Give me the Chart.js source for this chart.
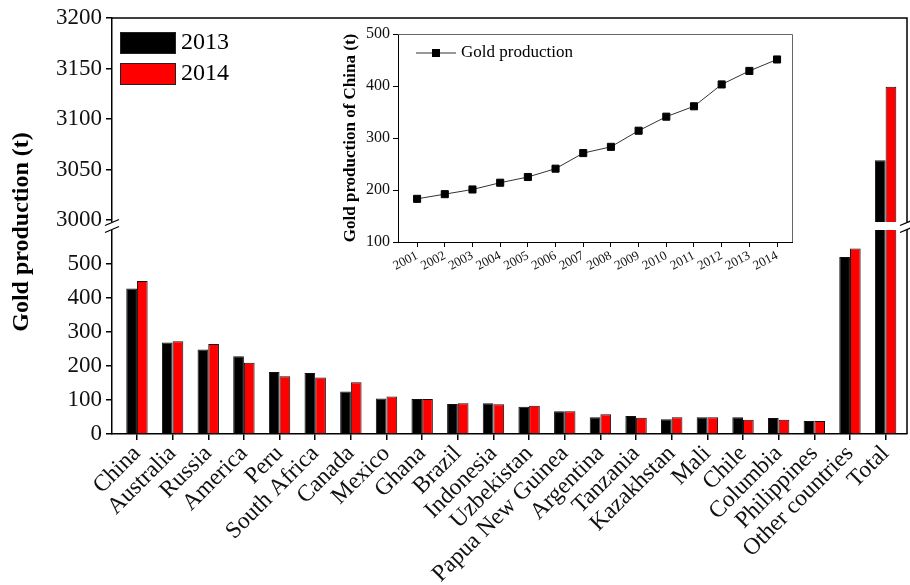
<!DOCTYPE html>
<html>
<head>
<meta charset="utf-8">
<script src="https://cdn.jsdelivr.net/npm/chart.js@4.4.0/dist/chart.umd.min.js"></script>
<style>
  body { margin: 0; background: #fff; }
  #wrap { position: relative; width: 910px; height: 585px; }
  #main { position: absolute; left: 0; top: 0; }
  #inset { position: absolute; left: 330px; top: 20px; }
</style>
</head>
<body>
<div id="wrap">
  <canvas id="main" width="910" height="585"></canvas>
  <canvas id="inset" width="480" height="262"></canvas>
</div>
<script>
// ----- DATA -----
const countries = ["China", "Australia", "Russia", "America", "Peru", "South Africa",
  "Canada", "Mexico", "Ghana", "Brazil", "Indonesia", "Uzbekistan", "Papua New Guinea",
  "Argentina", "Tanzania", "Kazakhstan", "Mali", "Chile", "Columbia", "Philippines",
  "Other countries", "Total"];
const prod2013 = [427, 268, 248, 228, 182, 179, 125, 104, 103, 88, 90, 80, 67,
  49, 53, 43, 49, 49, 47, 38, 519, 3059];
const prod2014 = [449, 272, 264, 209, 169, 166, 152, 110, 103, 90, 87, 83, 67,
  58, 48, 49, 49, 42, 42, 38, 544, 3132];
const lowTicks = [0, 100, 200, 300, 400, 500];
const highTicks = [3000, 3050, 3100, 3150, 3200];

const chinaYears = [2001, 2002, 2003, 2004, 2005, 2006, 2007, 2008, 2009, 2010, 2011, 2012, 2013, 2014];
const chinaProd = [183, 192, 201, 214, 225, 241, 271, 283, 314, 341, 361, 403, 429, 451];
const insetTicks = [100, 200, 300, 400, 500];

const LOW_MAX = 610;
const HIGH_MIN = 2994;
const serif = '"Liberation Serif", "Times New Roman", serif';

// split every bar across the axis break
const lowPart = arr => arr.map((v, i) => ({ x: i, y: Math.min(v, LOW_MAX) }));
const highPart = arr => arr.map((v, i) => ({ x: i, y: v > LOW_MAX ? v : null }));

const barStyle = color => ({
  backgroundColor: color,
  borderColor: "#111",
  borderWidth: 1,
  categoryPercentage: 0.6,
  barPercentage: 1
});

// ----- MAIN CHART EXTRAS -----
const mainDecor = {
  id: "mainDecor",
  afterDatasetsDraw(chart) {
    const ctx = chart.ctx;
    const a = chart.chartArea;
    const seam = chart.scales.yHigh.bottom;

    ctx.save();
    // top + right frame
    ctx.strokeStyle = "#000";
    ctx.lineWidth = 1.5;
    ctx.beginPath();
    ctx.moveTo(a.left, a.top);
    ctx.lineTo(a.right, a.top);
    ctx.lineTo(a.right, a.bottom);
    ctx.stroke();

    // break gap
    ctx.fillStyle = "#fff";
    ctx.fillRect(a.left - 4, seam - 4, a.right - a.left + 10, 8);

    // break marks
    ctx.lineWidth = 1.3;
    [a.left, a.right].forEach(x => {
      [-3.5, 3.5].forEach(dy => {
        ctx.beginPath();
        ctx.moveTo(x - 7, seam + dy + 3);
        ctx.lineTo(x + 7, seam + dy - 3);
        ctx.stroke();
      });
    });

    // legend
    const items = [["2013", "#000"], ["2014", "#ff0000"]];
    ctx.font = "24px " + serif;
    ctx.textBaseline = "middle";
    items.forEach((it, k) => {
      const y = 32 + k * 31;
      ctx.fillStyle = it[1];
      ctx.fillRect(120, y, 55, 21);
      ctx.strokeStyle = "#222";
      ctx.lineWidth = 1;
      ctx.strokeRect(120.5, y + 0.5, 55, 21);
      ctx.fillStyle = "#000";
      ctx.fillText(it[0], 181, y + 11);
    });

    // y title
    ctx.translate(22, 232);
    ctx.rotate(-Math.PI / 2);
    ctx.font = "bold 24px " + serif;
    ctx.textAlign = "center";
    ctx.textBaseline = "middle";
    ctx.fillText("Gold production (t)", 0, 0);
    ctx.restore();
  }
};

const yCommon = {
  position: "left",
  stack: "y",
  stackWeight: 1,
  stacked: false,
  beginAtZero: false,
  grid: { drawOnChartArea: false, tickLength: 6, color: "#000", lineWidth: 1.5 },
  border: { display: true, color: "#000", width: 1.5 },
  ticks: { font: { family: serif, size: 23 }, color: "#111", padding: 4, autoSkip: false, callback: v => String(v) },
  afterFit: s => { s.width = 112; }
};

new Chart(document.getElementById("main"), {
  type: "bar",
  data: {
    datasets: [
      { label: "2013", data: lowPart(prod2013), yAxisID: "yLow", stack: "s13", ...barStyle("#000") },
      { label: "2014", data: lowPart(prod2014), yAxisID: "yLow", stack: "s14", ...barStyle("#ff0000") },
      { label: "2013", data: highPart(prod2013), yAxisID: "yHigh", stack: "s13", ...barStyle("#000") },
      { label: "2014", data: highPart(prod2014), yAxisID: "yHigh", stack: "s14", ...barStyle("#ff0000") }
    ]
  },
  options: {
    responsive: false,
    animation: false,
    events: [],
    layout: { padding: { top: 18, right: 3 } },
    plugins: { legend: { display: false }, tooltip: { enabled: false } },
    scales: {
      x: {
        type: "linear",
        offset: false,
        min: -0.7,
        max: 21.6,
        afterBuildTicks: s => { s.ticks = countries.map((c, i) => ({ value: i })); },
        ticks: {
          callback: v => countries[v],
          autoSkip: false,
          minRotation: 45,
          maxRotation: 45,
          font: { family: serif, size: 23.5 },
          color: "#111",
          padding: 0
        },
        grid: { drawOnChartArea: false, offset: false, tickLength: 6, color: "#000", lineWidth: 1.5 },
        border: { display: true, color: "#000", width: 1.5 },
        afterFit: s => { s.height = 151; }
      },
      yLow: {
        ...yCommon,
        min: 0,
        max: LOW_MAX,
        afterBuildTicks: s => { s.ticks = lowTicks.map(v => ({ value: v })); }
      },
      yHigh: {
        ...yCommon,
        min: HIGH_MIN,
        max: 3200,
        afterBuildTicks: s => { s.ticks = highTicks.map(v => ({ value: v })); }
      }
    }
  },
  plugins: [mainDecor]
});

// ----- INSET -----
const insetDecor = {
  id: "insetDecor",
  afterDatasetsDraw(chart) {
    const ctx = chart.ctx;
    const a = chart.chartArea;
    ctx.save();
    ctx.strokeStyle = "#666";
    ctx.lineWidth = 1;
    ctx.beginPath();
    ctx.moveTo(a.left, a.top + 0.5);
    ctx.lineTo(a.right + 0.5, a.top + 0.5);
    ctx.lineTo(a.right + 0.5, a.bottom);
    ctx.stroke();

    // legend
    const y = a.top + 19;
    ctx.strokeStyle = "#333";
    ctx.beginPath();
    ctx.moveTo(a.left + 18, y);
    ctx.lineTo(a.left + 58, y);
    ctx.stroke();
    ctx.fillStyle = "#000";
    ctx.fillRect(a.left + 34, y - 4, 8, 8);
    ctx.font = "17px " + serif;
    ctx.textBaseline = "middle";
    ctx.fillText(chart.data.datasets[0].label, a.left + 63, y);
    ctx.restore();
  }
};

new Chart(document.getElementById("inset"), {
  type: "line",
  data: {
    datasets: [{
      label: "Gold production",
      data: chinaYears.map((yr, i) => ({ x: yr, y: chinaProd[i] })),
      borderColor: "#333",
      borderWidth: 1,
      pointStyle: "rect",
      pointRadius: 5,
      pointBackgroundColor: "#000",
      pointBorderColor: "#000",
      tension: 0
    }]
  },
  options: {
    responsive: false,
    animation: false,
    events: [],
    layout: { padding: { top: 14, right: 18 } },
    plugins: { legend: { display: false }, tooltip: { enabled: false } },
    scales: {
      x: {
        type: "linear",
        min: 2000.31,
        max: 2014.54,
        afterBuildTicks: s => { s.ticks = chinaYears.map(v => ({ value: v })); },
        ticks: {
          callback: v => String(v),
          autoSkip: false,
          minRotation: 28,
          maxRotation: 28,
          font: { family: serif, size: 13 },
          color: "#111",
          padding: 1
        },
        grid: { drawOnChartArea: false, tickLength: 5, color: "#000" },
        border: { display: true, color: "#000", width: 1 },
        afterFit: s => { s.height = 40; }
      },
      y: {
        min: 100,
        max: 500,
        afterBuildTicks: s => { s.ticks = insetTicks.map(v => ({ value: v })); },
        ticks: { font: { family: serif, size: 16 }, color: "#111", padding: 3, autoSkip: false, callback: v => String(v) },
        grid: { drawOnChartArea: false, tickLength: 5, color: "#000" },
        border: { display: true, color: "#000", width: 1 },
        title: {
          display: true,
          text: "Gold production of China (t)",
          font: { family: serif, size: 17, weight: "bold" },
          color: "#000",
          padding: { top: 10, bottom: 0 }
        },
        afterFit: s => { s.width = 68; }
      }
    }
  },
  plugins: [insetDecor]
});
</script>
</body>
</html>
